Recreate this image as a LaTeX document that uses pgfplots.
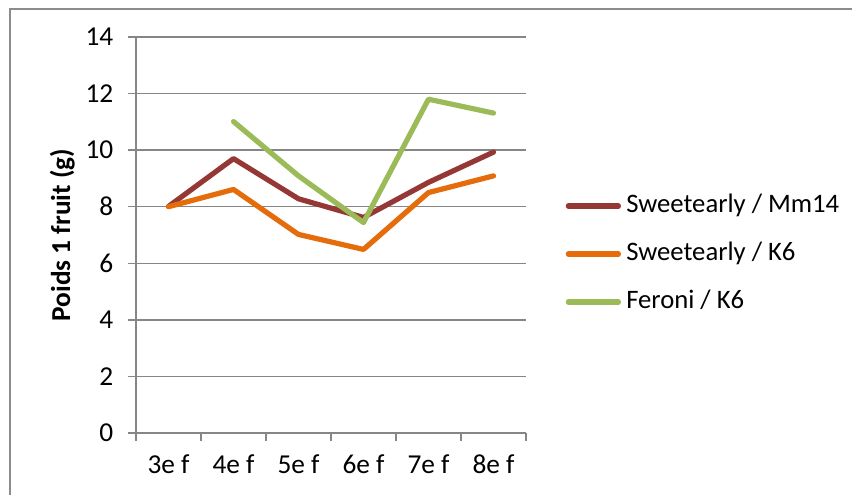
\documentclass[border=0pt]{standalone}
\usepackage{fontspec}
\setmainfont{Carlito}
\usepackage{pgfplots}
\pgfplotsset{compat=1.18}
\definecolor{cMm}{HTML}{953735}
\definecolor{cK}{HTML}{E46C0A}
\definecolor{cF}{HTML}{9BBB59}
\definecolor{cGrid}{HTML}{868686}
\definecolor{cBorder}{HTML}{8C8C8C}
\begin{document}
\begin{tikzpicture}
\begin{axis}[
  at={(0pt,0pt)}, anchor=south west,
  scale only axis, width=292.5pt, height=297pt,
  xmin=-0.5, xmax=5.5, ymin=0, ymax=14,
  xtick={-0.5,0.5,...,5.5},
  x tick label as interval,
  xticklabels={3e f,4e f,5e f,6e f,7e f,8e f},
  ytick={0,2,...,14},
  axis lines*=left,
  axis line style={cGrid, line width=1.1pt, -},
  tick align=outside,
  major tick length=6pt,
  tick style={cGrid, line width=1.1pt},
  ymajorgrids,
  grid style={cGrid, line width=1.1pt},
  ticklabel style={font=\fontsize{20.5}{24}\selectfont},
  xticklabel style={yshift=-7pt},
  yticklabel style={xshift=-7.5pt},
  /pgf/number format/assume math mode=true,
  ylabel={Poids 1 fruit (g)},
  ylabel style={font=\fontsize{20.5}{24}\selectfont\bfseries, at={(axis description cs:-0.189,0.5)}, anchor=center},
  legend style={draw=none, fill=none, inner sep=0pt, outer sep=0pt,
    at={(axis description cs:1.102,0.452)}, anchor=west,
    font=\fontsize{20}{24}\selectfont,
    nodes={inner sep=0pt, text height=14pt, text depth=4pt},
    row sep=18pt, column sep=4pt},
  legend cell align=left,
  legend image code/.code={\draw[#1] (0pt,0pt) -- (37.5pt,0pt);},
  every axis plot/.append style={line width=3.9pt, line cap=round, line join=round},
  clip=false,
]
\addplot[cMm] coordinates {(0,8.01) (1,9.70) (2,8.28) (3,7.62) (4,8.86) (5,9.93)};
\addlegendentry{Sweetearly / Mm14}
\addplot[cK] coordinates {(0,8.00) (1,8.61) (2,7.02) (3,6.49) (4,8.50) (5,9.09)};
\addlegendentry{Sweetearly / K6}
\addplot[cF] coordinates {(1,11.01) (2,9.09) (3,7.44) (4,11.80) (5,11.31)};
\addlegendentry{Feroni / K6}
\end{axis}
\draw[cBorder, line width=1.5pt] (-94.5pt,-46.5pt) -- (-94.5pt,318pt) -- (537pt,318pt);
\pgfresetboundingbox
\path[use as bounding box] (-102pt,-46.5pt) rectangle (537pt,324.75pt);
\end{tikzpicture}
\end{document}
